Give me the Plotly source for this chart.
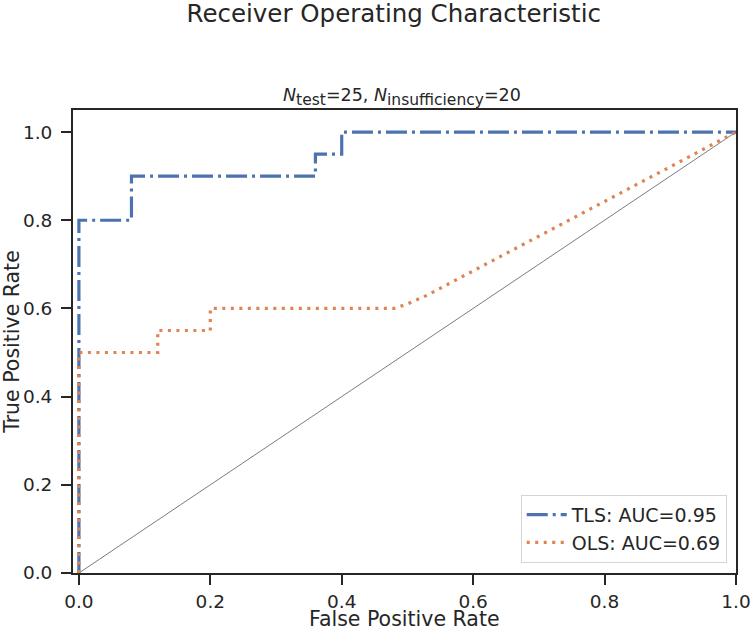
import plotly.graph_objects as go

# Data
tls_fpr = [0.0, 0.0, 0.08, 0.08, 0.36, 0.36, 0.40, 0.40, 1.0]
tls_tpr = [0.0, 0.80, 0.80, 0.90, 0.90, 0.95, 0.95, 1.0, 1.0]

ols_fpr = [0.0, 0.0, 0.12, 0.12, 0.20, 0.20, 0.48, 0.50, 0.53, 0.60, 1.0]
ols_tpr = [0.0, 0.50, 0.50, 0.55, 0.55, 0.60, 0.60, 0.61, 0.63, 0.685, 1.0]

diag_x = [0.0, 1.0]
diag_y = [0.0, 1.0]

tls_name = "TLS: AUC=0.95"
ols_name = "OLS: AUC=0.69"

tick_vals = [0.0, 0.2, 0.4, 0.6, 0.8, 1.0]
tick_text = ["0.0", "0.2", "0.4", "0.6", "0.8", "1.0"]

FONT = "DejaVu Sans"
TXT = "#262626"

fig = go.Figure()
fig.add_trace(go.Scatter(x=diag_x, y=diag_y, mode="lines",
                         line=dict(color="#444444", width=0.7),
                         showlegend=False, hoverinfo="skip"))
fig.add_trace(go.Scatter(x=tls_fpr, y=tls_tpr, mode="lines", name=tls_name,
                         line=dict(color="#4c72b0", width=3.2, dash="21px,5px,3px,5px")))
fig.add_trace(go.Scatter(x=ols_fpr, y=ols_tpr, mode="lines", name=ols_name,
                         line=dict(color="#dd8452", width=3.2, dash="3px,5.5px")))

axis_common = dict(
    showgrid=False, zeroline=False, showline=True, mirror=True,
    linecolor=TXT, linewidth=2,
    ticks="outside", ticklen=10, tickwidth=2, tickcolor=TXT,
    tickfont=dict(family=FONT, size=18.5, color=TXT),
    tickvals=tick_vals, ticktext=tick_text, automargin=False,
    ticklabeloverflow="allow",
)

subtitle = ('<i>N</i><sub><span style="font-size:15.5px">test</span></sub>=25, '
            '<i>N</i><sub><span style="font-size:15.5px">insufficiency</span></sub>=20')

fig.update_layout(
    width=750, height=630,
    margin=dict(l=73, r=14, t=110, b=57),
    paper_bgcolor="white", plot_bgcolor="white",
    font=dict(family=FONT, color=TXT),
    title=dict(text="Receiver Operating Characteristic", x=0.525, xanchor="center",
               y=0.978, yanchor="middle", font=dict(family=FONT, size=24.5, color=TXT)),
    xaxis=dict(range=[-0.009, 1.0001], ticklabelstandoff=1, **axis_common),
    yaxis=dict(range=[0.0, 1.05], ticklabelstandoff=5, **axis_common),
    legend=dict(x=0.986, y=0.022, xanchor="right", yanchor="bottom",
                bgcolor="rgba(255,255,255,0.85)", bordercolor="#d5d5d5", borderwidth=1,
                font=dict(family=FONT, size=19, color=TXT), itemwidth=40,
                tracegroupgap=0),
    annotations=[
        dict(text=subtitle,
             x=0.5, y=1.0, xref="paper", yref="paper", xanchor="center",
             yanchor="bottom", yshift=-1, xshift=-3, showarrow=False,
             font=dict(family=FONT, size=17.5, color=TXT)),
        dict(text="False Positive Rate", x=0.5, y=-0.099, xref="paper", yref="paper",
             xanchor="center", yanchor="middle", showarrow=False,
             font=dict(family=FONT, size=20.5, color=TXT)),
        dict(text="True Positive Rate", x=-0.093, y=0.5, xref="paper", yref="paper",
             xanchor="center", yanchor="middle", textangle=-90, showarrow=False,
             font=dict(family=FONT, size=20.5, color=TXT)),
    ],
)

fig.write_html("out.html", config={"displayModeBar": False},
               post_script="document.body.style.margin='0';")
